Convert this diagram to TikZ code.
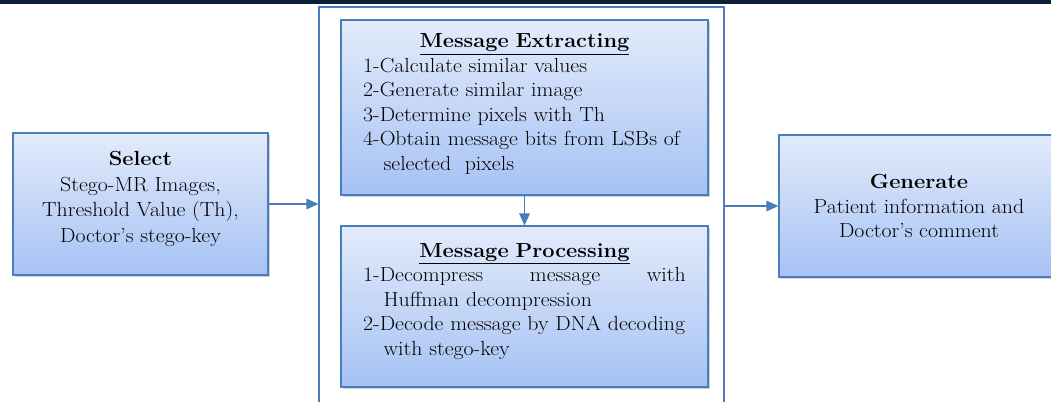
\documentclass[tikz,border=0pt]{standalone}
\usepackage{fontspec}
\setmainfont{Latin Modern Roman}[FakeStretch=1.07]
\usepackage{tikz}
\usetikzlibrary{positioning,shadows,arrows.meta}
\usepackage{xcolor}

\definecolor{lineblue}{HTML}{4A7EBB}
\definecolor{boxtop}{HTML}{E2EBFB}
\definecolor{boxbot}{HTML}{A6C2F4}
\definecolor{barnavy}{HTML}{0C1F38}

\begin{document}
\begin{tikzpicture}[
        x=0.75pt, y=-0.75pt,
        font=\fontsize{15.3}{18.4}\selectfont,
        box/.style={rectangle, draw=lineblue, line width=0.9pt, top color=boxtop, bottom color=boxbot,
            drop shadow={shadow xshift=1.2pt, shadow yshift=-1.5pt, opacity=0.35}, align=center},
        stage/.style={box, minimum width=275.25pt, text width=242pt, inner ysep=1pt, align=left},
        arrow/.style={-{Triangle[length=9pt, width=8pt]}, draw=lineblue, line width=0.9pt}
    ]
    \useasboundingbox (0,0) rectangle (1051,401);
    \clip (0,0) rectangle (1051,401);
    \fill[barnavy] (0,0) rectangle (1051,4);

    % Nodes
    \node[draw=lineblue, line width=0.9pt, minimum width=303.75pt, minimum height=309.75pt] (frame) at (521.5,213.5) {};

    \node[box, minimum width=191.25pt, minimum height=106.5pt] (select) at (140.5,204)
        {\textbf{Select}\\[0.75pt]Stego-MR Images,\\[0.75pt]Threshold Value (Th),\\[0.75pt]Doctor's stego-key\\[-8pt]\mbox{}};

    \node[stage, minimum height=131.25pt] (extract) at (524.5,107.5)
        {\centering\underline{\textbf{Message Extracting}}\par
         \raggedright 1-Calculate similar values\\
         2-Generate similar image\\
         3-Determine pixels with Th\\
         4-Obtain message bits from LSBs of\\
         \hspace*{1em}selected\ \ pixels\par\kern5pt};

    \node[stage, minimum height=120.75pt] (process) at (524.5,306.5)
        {\centering\underline{\textbf{Message Processing}}\par
         \raggedright\makebox[242pt][s]{1-Decompress\hfill message\hfill with}\\
         \hspace*{1em}Huffman decompression\\
         2-Decode message by DNA decoding\\
         \hspace*{1em}with stego-key\par\kern8pt};

    \node[box, minimum width=210pt, minimum height=106.5pt] (generate) at (919,206)
        {\textbf{Generate}\\Patient information and\\Doctor's comment};

    % Arrows
    \draw[arrow] (select.east) -- (select.east -| frame.west);
    \draw[arrow] (extract.south) -- (process.north);
    \draw[arrow] (generate.west -| frame.east) -- (generate.west);
\end{tikzpicture}
\end{document}
